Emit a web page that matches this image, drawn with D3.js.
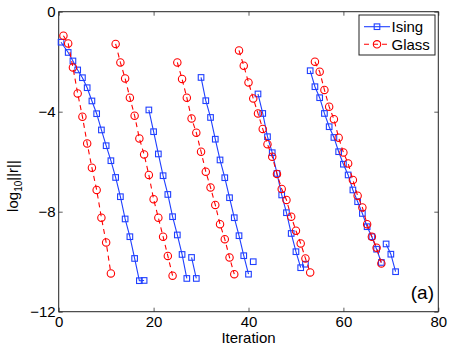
<!DOCTYPE html>
<html>
<head>
<meta charset="utf-8">
<script src="https://cdn.jsdelivr.net/npm/d3@7"></script>
<style>
body { margin: 0; background: #fff; }
text { font-family: "Liberation Sans", Arial, sans-serif; }
</style>
</head>
<body>
<div id="chart"></div>
<script>
// restarts are split with null so the lines break between runs
var isingIter = [0.5, 2, 3, 4, 5, 6, 7, 8, 9, 10, 11, 12, 13, 14, 15, 16, 17, 18, null,
	19, 20, 21, 22, 23, 24, 25, 26, 27, null,
	28, 29, null,
	30, 31, 32, 33, 34, 35, 36, 37, 38, 39, 40, null,
	41, null,
	42, 43, 44, 45, 46, 47, 48, 49, 50, 51, null,
	52, null,
	53, 54, 55, 56, 57, 58, 59, 60, 61, 62, 63, 64, 65, 66, 67, 68, null,
	69, 70, 71];
var isingLog = [-1.22, -1.63, -1.97, -2.33, -2.64, -3.04, -3.57, -4.08, -4.73, -5.36, -5.96, -6.63, -7.4, -8.29, -9.0, -9.87, -10.76, -10.75, null,
	-3.93, -4.8, -5.69, -6.56, -7.31, -8.2, -8.93, -9.71, -10.67, null,
	-9.83, -10.67, null,
	-2.63, -3.56, -4.23, -5.1, -5.93, -6.64, -7.44, -8.24, -8.96, -9.76, -10.5, null,
	-10.0, null,
	-3.29, -4.07, -5.0, -5.64, -6.47, -7.33, -8.04, -8.87, -9.6, -10.24, null,
	-10.1, null,
	-2.36, -3.0, -3.44, -4.07, -4.6, -5.03, -5.6, -6.1, -6.53, -7.13, -7.6, -8.07, -8.6, -9.0, -9.5, -10.03, null,
	-9.29, -9.7, -10.4];

var glassIter = [1, 2, 3, 4, 5, 6, 7, 8, 9, 10, 11, null,
	12, 13, 14, 15, 16, 17, 18, 19, 20, 21, 22, 23, 24, null,
	25, 26, 27, 28, 29, 30, 31, 32, 33, 34, 35, 36, 37, null,
	38, 39, 40, 41, 42, 43, 44, 45, 46, 47, 48, 49, 50, 51, 52, 53, null,
	54, 55, 56, 57, 58, 59, 60, 61, 62, 63, 64, 65, 66, 67, 68];
var glassLog = [-0.96, -1.27, -2.23, -3.27, -4.2, -5.27, -6.24, -7.13, -8.24, -9.23, -10.47, null,
	-1.29, -2.03, -2.67, -3.44, -4.16, -5.07, -5.71, -6.53, -7.5, -8.24, -9.0, -9.77, -10.56, null,
	-2.03, -2.69, -3.44, -4.27, -4.84, -5.6, -6.4, -7.03, -7.73, -8.5, -9.1, -9.83, -10.5, null,
	-1.55, -2.16, -2.83, -3.47, -4.07, -4.69, -5.3, -5.8, -6.49, -7.09, -7.53, -8.2, -8.76, -9.27, -9.87, -10.43, null,
	-2.0, -2.4, -3.13, -3.8, -4.3, -5.04, -5.63, -6.07, -6.73, -7.36, -7.83, -8.5, -9.0, -9.44, -10.07];

var xTicks = [0, 20, 40, 60, 80];
var yTicks = [0, -4, -8, -12];
var seriesNames = ["Ising", "Glass"];

var BLUE = "#1f3fff", RED = "#ff0000";
var width = 450, height = 348;
var pLeft = 58.7, pRight = 438.3, pTop = 11.7, pBottom = 311.7;

var svg = d3.select("#chart").append("svg")
	.attr("width", width)
	.attr("height", height);

var x = d3.scaleLinear().domain([0, 80]).range([pLeft, pRight]);
var y = d3.scaleLinear().domain([-12, 0]).range([pBottom, pTop]);

function pairs(xs, ys) {
	return xs.map(function(v, i) { return [v, ys[i]]; });
}
var ising = pairs(isingIter, isingLog);
var glass = pairs(glassIter, glassLog);

var line = d3.line()
	.defined(function(d) { return d[1] !== null; })
	.x(function(d) { return x(d[0]); })
	.y(function(d) { return y(d[1]); });

/* axes, ticks pointing inward like matlab */
var fmt = d3.format("d");
svg.append("g")
	.attr("transform", "translate(0," + pBottom + ")")
	.call(d3.axisBottom(x).tickValues(xTicks).tickSizeInner(-4).tickSizeOuter(0).tickPadding(5).tickFormat(fmt));
svg.append("g")
	.attr("transform", "translate(0," + pTop + ")")
	.call(d3.axisTop(x).tickValues(xTicks).tickSizeInner(-4).tickSizeOuter(0).tickFormat(""));
svg.append("g")
	.attr("transform", "translate(" + pLeft + ",0)")
	.call(d3.axisLeft(y).tickValues(yTicks).tickSizeInner(-4).tickSizeOuter(0).tickPadding(3).tickFormat(fmt));
svg.append("g")
	.attr("transform", "translate(" + pRight + ",0)")
	.call(d3.axisRight(y).tickValues(yTicks).tickSizeInner(-4).tickSizeOuter(0).tickFormat(""));

svg.selectAll(".domain").remove();
svg.selectAll(".tick line").attr("stroke", "#333").attr("stroke-width", 0.8);
svg.selectAll(".tick text").attr("font-size", 15).attr("fill", "#000")
	.attr("font-family", "'Liberation Sans', Arial, sans-serif");

svg.append("rect")
	.attr("x", pLeft).attr("y", pTop)
	.attr("width", pRight - pLeft).attr("height", pBottom - pTop)
	.attr("fill", "none").attr("stroke", "#222").attr("stroke-width", 1);

/* series */
svg.append("path")
	.datum(ising)
	.attr("d", line)
	.attr("fill", "none")
	.attr("stroke", BLUE)
	.attr("stroke-width", 1.1);

svg.append("g").selectAll("rect")
	.data(ising.filter(function(d) { return d[1] !== null; }))
	.enter().append("rect")
		.attr("x", function(d) { return x(d[0]) - 2.8; })
		.attr("y", function(d) { return y(d[1]) - 2.8; })
		.attr("width", 5.6).attr("height", 5.6)
		.attr("fill", "none")
		.attr("stroke", BLUE)
		.attr("stroke-width", 1.1);

svg.append("path")
	.datum(glass)
	.attr("d", line)
	.attr("fill", "none")
	.attr("stroke", RED)
	.attr("stroke-width", 1.1)
	.attr("stroke-dasharray", "5,4");

svg.append("g").selectAll("circle")
	.data(glass.filter(function(d) { return d[1] !== null; }))
	.enter().append("circle")
		.attr("cx", function(d) { return x(d[0]); })
		.attr("cy", function(d) { return y(d[1]); })
		.attr("r", 3.7)
		.attr("fill", "none")
		.attr("stroke", RED)
		.attr("stroke-width", 1.1);

/* labels */
svg.append("text")
	.attr("x", (pLeft + pRight) / 2).attr("y", 343)
	.attr("text-anchor", "middle")
	.attr("font-size", 15)
	.text("Iteration");

var ylab = svg.append("text")
	.attr("transform", "translate(17.5,186) rotate(-90)")
	.attr("text-anchor", "middle")
	.attr("font-size", 15);
ylab.append("tspan").text("log");
ylab.append("tspan").attr("font-size", 10).attr("dy", 4).text("10");
ylab.append("tspan").attr("dy", -4).text("||r||");

svg.append("text")
	.attr("x", 434).attr("y", 299)
	.attr("text-anchor", "end")
	.attr("font-size", 19)
	.text("(a)");

/* legend */
var legend = svg.append("g");
legend.append("rect")
	.attr("x", 359).attr("y", 15)
	.attr("width", 76).attr("height", 40)
	.attr("fill", "#fff").attr("stroke", "#222").attr("stroke-width", 1);

var rowY = [26.7, 44.3];
seriesNames.forEach(function(name, i) {
	var g = legend.append("g");
	var col = i === 0 ? BLUE : RED;
	g.append("line")
		.attr("x1", 364).attr("x2", 390)
		.attr("y1", rowY[i]).attr("y2", rowY[i])
		.attr("stroke", col).attr("stroke-width", 1.1)
		.attr("stroke-dasharray", i === 0 ? null : "5,4");
	if (i === 0) {
		g.append("rect")
			.attr("x", 377 - 2.8).attr("y", rowY[i] - 2.8)
			.attr("width", 5.6).attr("height", 5.6)
			.attr("fill", "none").attr("stroke", col).attr("stroke-width", 1.1);
	} else {
		g.append("circle")
			.attr("cx", 377).attr("cy", rowY[i]).attr("r", 3.7)
			.attr("fill", "none").attr("stroke", col).attr("stroke-width", 1.1);
	}
	g.append("text")
		.attr("x", 391.5).attr("y", rowY[i] + 5.5)
		.attr("font-size", 15)
		.text(name);
});
</script>
</body>
</html>
